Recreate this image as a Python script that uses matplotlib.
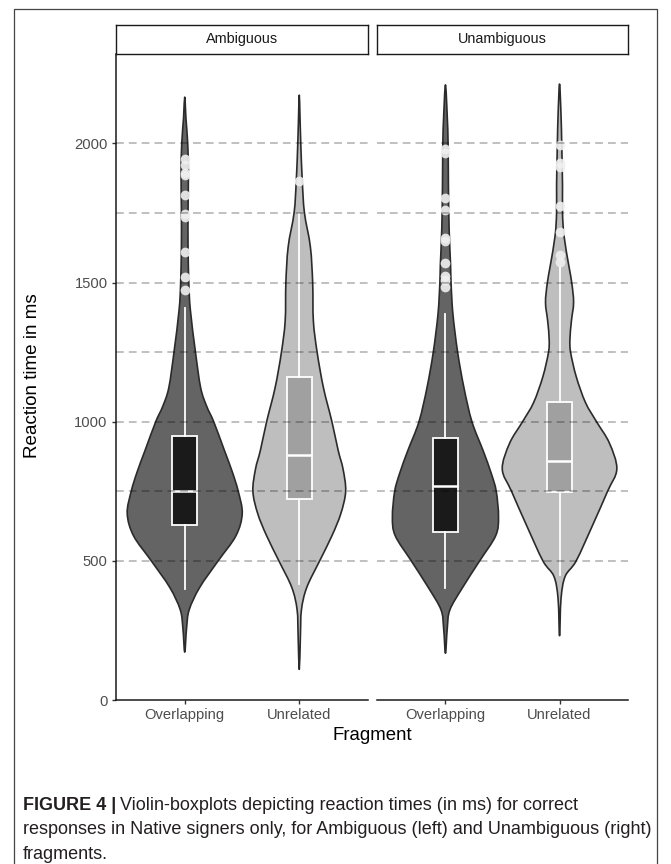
import matplotlib.pyplot as plt
from matplotlib.lines import Line2D
from matplotlib.path import Path
from matplotlib.patches import PathPatch

W, H = 671, 864

groups = ['Ambiguous', 'Unambiguous']
fragments = ['Overlapping', 'Unrelated']
grid_ms = [500, 750, 1000, 1250, 1500, 1750, 2000]
ytick_ms = [0, 500, 1000, 1500, 2000]

# violin outlines: reaction time (ms) and half width (in category units)
amb_ovl_rt = [172, 258, 324, 404, 500, 590, 670, 750, 820, 896, 1000, 1056, 1122, 1249, 1402, 1495, 1628, 1761, 1894, 2000, 2093, 2166]
amb_ovl_hw = [0, .016, .039, .130, .292, .447, .502, .467, .415, .347, .253, .191, .139, .094, .049, .036, .029, .029, .032, .026, .010, 0]

amb_unr_rt = [110, 231, 324, 404, 500, 590, 670, 750, 830, 896, 1000, 1122, 1249, 1362, 1499, 1628, 1751, 1867, 2000, 2100, 2173]
amb_unr_hw = [0, .010, .019, .065, .178, .285, .363, .405, .382, .340, .285, .211, .156, .123, .117, .097, .045, .026, .013, .006, 0]

una_ovl_rt = [168, 258, 324, 404, 500, 590, 657, 750, 816, 896, 1000, 1122, 1249, 1388, 1499, 1561, 1694, 1850, 2000, 2093, 2210]
una_ovl_hw = [0, .016, .039, .150, .300, .440, .465, .445, .400, .330, .232, .162, .107, .065, .049, .045, .032, .026, .023, .016, 0]

una_unr_rt = [231, 364, 444, 500, 630, 750, 830, 923, 1000, 1069, 1162, 1249, 1295, 1362, 1428, 1499, 1561, 1668, 1751, 1850, 2000, 2100, 2213]
una_unr_hw = [0, .013, .049, .146, .292, .421, .502, .437, .324, .227, .146, .097, .091, .104, .123, .107, .081, .039, .026, .026, .019, .013, 0]

# boxplot summaries: q1, median, q3, whisker low, whisker high
amb_ovl_box = [630, 750, 949, 398, 1408]
amb_unr_box = [721, 880, 1162, 418, 1745]
una_ovl_box = [604, 770, 943, 404, 1386]
una_unr_box = [747, 860, 1072, 450, 1554]

amb_ovl_out = [1472, 1521, 1608, 1737, 1745, 1814, 1887, 1894, 1923, 1944]
amb_unr_out = [1864]
una_ovl_out = [1485, 1508, 1524, 1570, 1648, 1661, 1761, 1803, 1967, 1980]
una_unr_out = [1572, 1598, 1681, 1774, 1914, 1931, 1993]

violin_fill = {'Overlapping': '#646464', 'Unrelated': '#bebebe'}
box_fill = {'Overlapping': '#1a1a1a', 'Unrelated': '#a0a0a0'}

panels = {
    'Ambiguous': [(amb_ovl_rt, amb_ovl_hw, amb_ovl_box, amb_ovl_out),
                  (amb_unr_rt, amb_unr_hw, amb_unr_box, amb_unr_out)],
    'Unambiguous': [(una_ovl_rt, una_ovl_hw, una_ovl_box, una_ovl_out),
                    (una_unr_rt, una_unr_hw, una_unr_box, una_unr_out)],
}

plt.rcParams['font.family'] = ['Liberation Sans', 'DejaVu Sans']


def px_rect(x0, y0, x1, y1):
    return [x0 / W, 1 - y1 / H, (x1 - x0) / W, (y1 - y0) / H]


def violin_path(pos, rt, hw):
    # closed outline: up the right side, down the left side,
    # drawn as a smooth curve (Catmull-Rom as cubic Beziers)
    pts = [(pos + w, y) for w, y in zip(hw, rt)]
    pts += [(pos - w, y) for w, y in zip(hw[-2:0:-1], rt[-2:0:-1])]
    n = len(pts)
    verts = [pts[0]]
    codes = [Path.MOVETO]
    for i in range(n):
        p0, p1, p2, p3 = pts[i - 1], pts[i], pts[(i + 1) % n], pts[(i + 2) % n]
        c1 = (p1[0] + (p2[0] - p0[0]) / 6, p1[1] + (p2[1] - p0[1]) / 6)
        c2 = (p2[0] - (p3[0] - p1[0]) / 6, p2[1] - (p3[1] - p1[1]) / 6)
        verts += [c1, c2, p2]
        codes += [Path.CURVE4] * 3
    verts.append(pts[0])
    codes.append(Path.CLOSEPOLY)
    return Path(verts, codes)


fig = plt.figure(figsize=(W / 100, H / 100), dpi=100)
fig.patch.set_facecolor('white')

panel_x = {'Ambiguous': (116, 368), 'Unambiguous': (377, 628)}

for g in groups:
    x0, x1 = panel_x[g]
    ax = fig.add_axes(px_rect(x0, 54, x1, 700))
    ax.set_xlim(0.4, 2.6)
    ax.set_ylim(0, 2321)
    ax.set_facecolor('none')

    for i, (rt, hw, box, out) in enumerate(panels[g]):
        pos = i + 1
        frag = fragments[i]
        ax.add_patch(PathPatch(violin_path(pos, rt, hw), facecolor=violin_fill[frag],
                               edgecolor='#2b2b2b', linewidth=1.2,
                               joinstyle='round', zorder=2))
        stats = [dict(q1=box[0], med=box[1], q3=box[2],
                      whislo=box[3], whishi=box[4], fliers=out)]
        ax.bxp(stats, positions=[pos], widths=0.22, patch_artist=True,
               showcaps=False, manage_ticks=False, zorder=3,
               boxprops=dict(facecolor=box_fill[frag], edgecolor='white', linewidth=1.3),
               medianprops=dict(color='white', linewidth=1.8),
               whiskerprops=dict(color='white', linewidth=1.3),
               flierprops=dict(marker='o', markerfacecolor='#f0f0f0',
                               markeredgecolor='none', markersize=7, alpha=0.9))

    for v in grid_ms:
        ax.axhline(v, color='black', alpha=0.25, linewidth=1.4,
                   dashes=(4, 2.6), zorder=4)

    for s in ['top', 'right']:
        ax.spines[s].set_visible(False)
    ax.spines['bottom'].set_color('#1a1a1a')
    ax.spines['bottom'].set_linewidth(1.1)
    ax.set_xticks([1, 2])
    ax.set_xticklabels(fragments)
    ax.tick_params(axis='both', length=3, width=1, color='#333333',
                   labelcolor='#4d4d4d', labelsize=10.6, pad=3)
    if g == 'Ambiguous':
        ax.spines['left'].set_color('#1a1a1a')
        ax.spines['left'].set_linewidth(1.1)
        ax.set_yticks(ytick_ms)
    else:
        ax.spines['left'].set_visible(False)
        ax.set_yticks([])

    # facet strip
    sx = fig.add_axes(px_rect(x0, 25, x1, 54))
    sx.set_xticks([])
    sx.set_yticks([])
    for s in sx.spines.values():
        s.set_color('#1a1a1a')
        s.set_linewidth(1.0)
    sx.text(0.5, 0.5, g, ha='center', va='center', fontsize=10.4,
            color='#1a1a1a', transform=sx.transAxes)

fig.text(33 / W, 1 - 376 / H, 'Reaction time in ms', rotation=90,
         ha='center', va='center', fontsize=13.6, color='black')
fig.text(372 / W, 1 - 736 / H, 'Fragment', ha='center', va='center',
         fontsize=13.4, color='black')

# caption below the plot
cap_color = '#231f20'
renderer = fig.canvas.get_renderer()
bold = fig.text(23 / W, 1 - 810 / H, 'FIGURE 4 |', weight='bold',
                fontsize=13, color=cap_color, va='baseline')
bb = bold.get_window_extent(renderer)
fig.text((bb.x1 + 4) / W, 1 - 810 / H,
         'Violin-boxplots depicting reaction times (in ms) for correct',
         fontsize=13, color=cap_color, va='baseline')
fig.text(23 / W, 1 - 834.5 / H,
         'responses in Native signers only, for Ambiguous (left) and Unambiguous (right)',
         fontsize=13, color=cap_color, va='baseline')
fig.text(23 / W, 1 - 859 / H, 'fragments.', fontsize=13,
         color=cap_color, va='baseline')

# frame around the figure
fig.add_artist(Line2D([14 / W, 14 / W, 657 / W, 657 / W], [0, 1 - 9 / H, 1 - 9 / H, 0],
                      color='#444444', linewidth=0.9, transform=fig.transFigure))

fig.savefig('out.png', dpi=100)
